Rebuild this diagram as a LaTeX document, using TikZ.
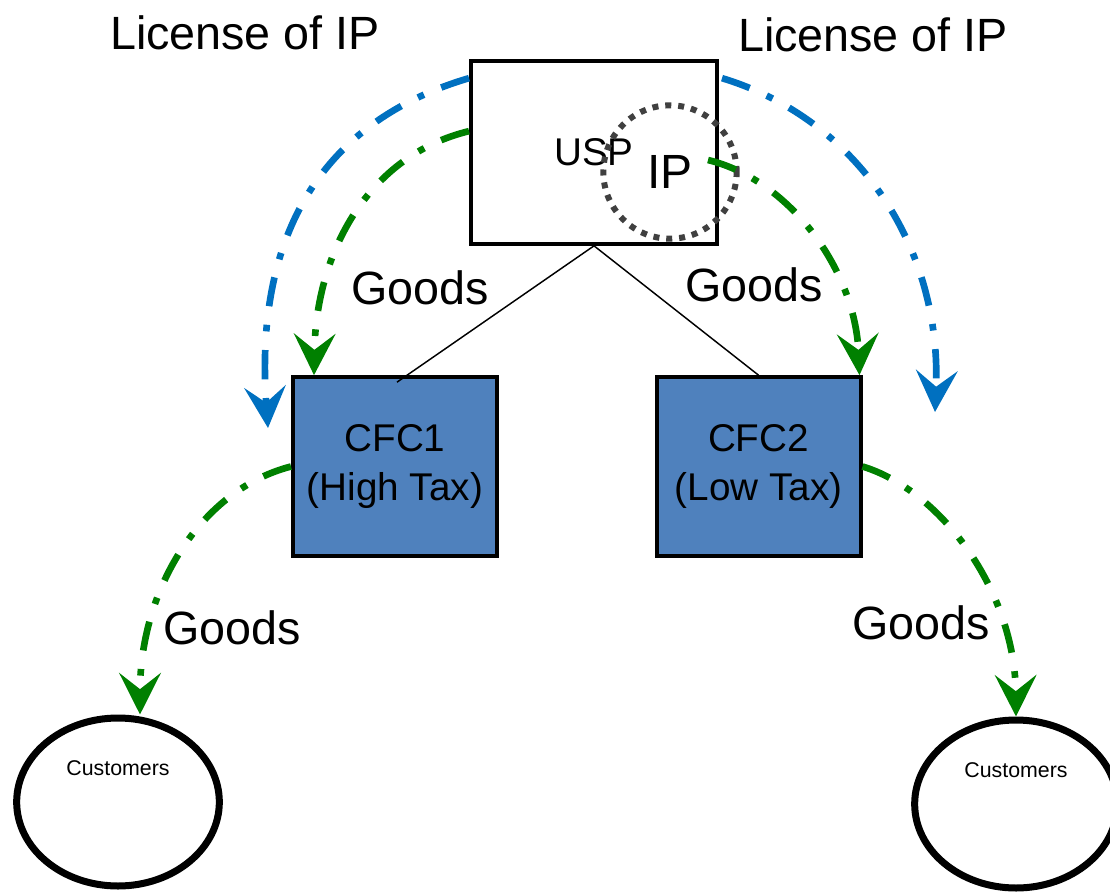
\documentclass[tikz,border=0pt]{standalone}
\usepackage{fontspec}
\setmainfont{Liberation Sans}
\usetikzlibrary{arrows.meta,calc,shapes.geometric}
\definecolor{ipblue}{HTML}{0070C0}
\definecolor{ipgreen}{HTML}{008000}
\definecolor{cfcfill}{HTML}{4F81BD}
\definecolor{dotgray}{HTML}{404040}
\begin{document}
\begin{tikzpicture}[x=0.75pt,y=-0.75pt,
  uspbox/.style={draw, fill=white, line width=3pt, minimum width=184.5pt, minimum height=137pt, inner sep=0pt, font=\fontsize{29}{34}\selectfont},
  ipcircle/.style={circle, draw=dotgray, line width=4.5pt, dash pattern=on 4.5pt off 5.2pt, minimum size=100pt, inner sep=0pt, font=\fontsize{36}{40}\selectfont},
  cfc/.style={draw, fill=cfcfill, line width=3pt, minimum width=153pt, minimum height=134pt, inner sep=0pt, align=center, font=\fontsize{29}{37}\selectfont},
  cust/.style={ellipse, draw, line width=5.25pt, minimum width=152pt, minimum height=126pt, inner sep=0pt},
  custtext/.style={font=\fontsize{16}{19}\selectfont},
  lbl/.style={anchor=base, inner sep=0pt, font=\fontsize{35}{40}\selectfont},
  tie/.style={line width=1.1pt},
  flow/.style={line width=5pt, dash pattern=on 22pt off 14pt on 5pt off 14pt,
    -{Stealth[length=31pt,width=31pt,inset=12pt]}},
  blueflow/.style={flow, color=ipblue},
  greenflow/.style={flow, color=ipgreen}]
\useasboundingbox (0,0) rectangle (1110,892);

% nodes
\node[uspbox] (usp) at (594,152.5) {USP};
\node[ipcircle] (ip) at (670,172) {IP};
\node[cfc] (cfc1) at (395,466.5) {CFC1\\(High Tax)};
\node[cfc] (cfc2) at (758.5,466.5) {CFC2\\(Low Tax)};
\node[cust] (c1) at (118,802) {};
\node[cust] (c2) at (1016,804) {};
\node[custtext] (c1t) at ($(c1.north)+(0,54)$) {Customers};
\node[custtext] (c2t) at ($(c2.north)+(0,54)$) {Customers};

% labels
\node[lbl] (lic1) at (245,50) {License of IP};
\node[lbl] (lic2) at (873,52) {License of IP};
\node[lbl] (g1) at (420,304) {Goods};
\node[lbl] (g2) at (754,301) {Goods};
\node[lbl] (g3) at (232,644) {Goods};
\node[lbl] (g4) at (921,639) {Goods};

% free ends
\coordinate (bl) at (268,428);
\coordinate (br) at (935,412);

% ownership lines
\draw[tie] (usp.south) -- ($(cfc1.north)+(2,7)$);
\draw[tie] (usp.south) -- (cfc2.north);

% flows
\draw[blueflow] ($(usp.north west)+(0,19)$) .. controls (310,125) and (255,250) .. (bl);
\draw[greenflow] ($(usp.north west)+(0,72)$) .. controls (370,155) and (316,250) .. ($(cfc1.north west)+(23,0)$);
\draw[blueflow] ($(usp.north east)+(3,19)$) .. controls (860,120) and (942,250) .. (br);
\draw[greenflow] ($(ip.center)+(38,-12)$) .. controls (790,180) and (855,270) .. ($(cfc2.north east)+(-3,0)$);
\draw[greenflow] (cfc1.west) .. controls (200,490) and (140,590) .. ($(c1.north)+(22,0)$);
\draw[greenflow] (cfc2.east) .. controls (940,490) and (1015,590) .. (c2.north);
\end{tikzpicture}
\end{document}
